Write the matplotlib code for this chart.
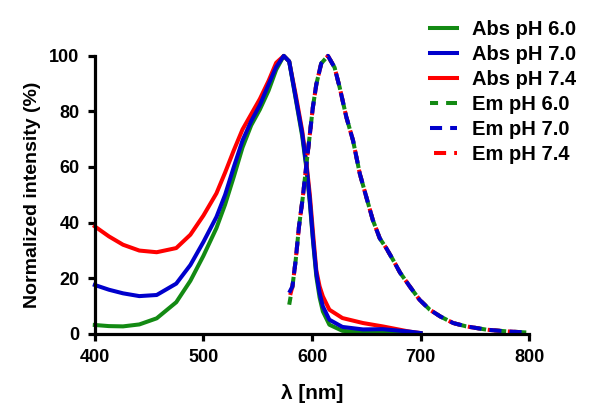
import matplotlib
matplotlib.use('Agg')
import matplotlib.pyplot as plt

plt.rcParams['font.family'] = ['Liberation Sans', 'DejaVu Sans']
plt.rcParams['font.weight'] = 'bold'

# absorption spectra
wl_abs = [400, 413, 426, 441, 457, 475, 488, 500, 512, 520, 528, 536, 544, 552, 560, 567, 574,
          579, 585, 591, 595, 598, 601, 604, 607, 610, 616, 628, 647, 665, 690, 700]
abs_60 = [3.1, 2.7, 2.6, 3.3, 5.5, 11.3, 19, 28, 38, 46.5, 56.5, 67, 75, 80.7, 87.5, 95, 100,
          98, 84.5, 71, 59, 47, 33, 20.5, 13, 8, 3.2, 1, 0.5, 0.4, 0.2, 0]
abs_70 = [17.5, 15.8, 14.5, 13.5, 13.9, 18, 24.7, 33, 42, 50, 60, 69.5, 76.5, 82.3, 89.7, 96, 100,
          98, 85, 72, 60, 48, 33.7, 21.7, 14.6, 9.8, 5, 2.4, 1.5, 1.6, 0.7, 0.2]
abs_74 = [38.6, 35, 32, 29.9, 29.3, 30.8, 35.6, 42.5, 50.5, 58, 66, 73.5, 79, 84.5, 91, 97.5, 100,
          98, 86, 73, 61, 50, 36, 22.7, 17, 13.4, 8.6, 5.6, 3.8, 2.6, 0.7, 0.2]

# emission spectra
wl_em = [579, 582, 585, 588, 591.5, 594.6, 597.7, 600.8, 604, 608.5, 614.7, 620.8,
         625.5, 631.6, 637.8, 644, 650, 656, 662.4, 668.5, 674.7, 681, 690, 699,
         708.5, 718, 730, 742, 761, 779, 798]
em_70 = [14.7, 17, 26.5, 38.5, 49, 60, 70.7, 81.5, 89.8, 97.3, 100, 95.8,
         88.6, 78, 69.5, 57.6, 49.2, 40.9, 34.3, 30.7, 26.5, 22, 17, 12.2,
         8.6, 6.2, 3.8, 2.6, 1.4, 0.8, 0.4]
em_60 = [10.4] + em_70[1:]
em_74 = [12.5] + em_70[1:]

green = '#138a13'
blue = '#0000cc'
red = '#ff0000'

fig = plt.figure(figsize=(6.0, 4.17), dpi=100)
ax = fig.add_axes([0.158, 0.2, 0.724, 0.666])

lw = 2.9
l_a74, = ax.plot(wl_abs, abs_74, color=red, lw=lw, label='Abs pH 7.4', clip_on=False)
l_a60, = ax.plot(wl_abs, abs_60, color=green, lw=lw, label='Abs pH 6.0', clip_on=False)
l_a70, = ax.plot(wl_abs, abs_70, color=blue, lw=lw, label='Abs pH 7.0', clip_on=False)

# dashed emission lines, phases shifted so the colours fill each other's gaps
l_e60, = ax.plot(wl_em, em_60, color=green, lw=lw, ls=(1, (3, 2)), label='Em pH 6.0', clip_on=False)
l_e74, = ax.plot(wl_em, em_74, color=red, lw=lw, ls=(4, (3, 2)), label='Em pH 7.4', clip_on=False)
l_e70, = ax.plot(wl_em, em_70, color=blue, lw=lw, ls=(0, (3, 2)), label='Em pH 7.0', clip_on=False)

ax.set_xlim(400, 800)
ax.set_ylim(0, 100)
ax.set_xticks([400, 500, 600, 700, 800])
ax.set_yticks([0, 20, 40, 60, 80, 100])

for s in ['top', 'right']:
    ax.spines[s].set_visible(False)
for s in ['left', 'bottom']:
    ax.spines[s].set_linewidth(2.3)
ax.tick_params(direction='out', length=5, width=2.3, labelsize=13, pad=6)
for t in ax.get_xticklabels() + ax.get_yticklabels():
    t.set_fontweight('bold')

ax.set_xlabel('λ [nm]', fontsize=15, fontweight='bold', labelpad=13)
ax.set_ylabel('Normalized intensity (%)', fontsize=14, fontweight='bold', labelpad=6)

handles = [l_a60, l_a70, l_a74, l_e60, l_e70, l_e74]
fig.legend(handles=handles, labels=[h.get_label() for h in handles],
           loc='upper left', bbox_to_anchor=(430 / 600, 1 - 20 / 417),
           frameon=False, handlelength=1.35, handletextpad=0.75,
           labelspacing=0.3, borderpad=0, borderaxespad=0,
           prop={'weight': 'bold', 'size': 14.5})

fig.savefig('out.png', dpi=100)
